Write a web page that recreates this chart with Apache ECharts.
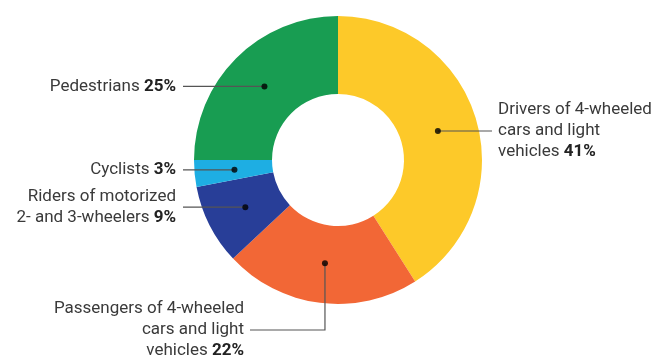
<!DOCTYPE html>
<html><head><meta charset="utf-8">
<script src="https://cdn.jsdelivr.net/npm/echarts@6/dist/echarts.min.js"></script>
<style>html,body{margin:0;padding:0;background:#fff}#c{width:656px;height:358px}</style>
</head><body><div id="c"></div>
<script>
const categories = ['Drivers of 4-wheeled\ncars and light\nvehicles', 'Passengers of 4-wheeled\ncars and light\nvehicles', 'Riders of motorized\n2- and 3-wheelers', 'Cyclists', 'Pedestrians'];
const values = [41, 22, 9, 3, 25];
const colors = ['#FDC929', '#F26736', '#283E98', '#1EAEE3', '#189D52'];

const CX = 338, CY = 160, R_IN = 66, R_OUT = 144, R_DOT = 104;
const FONT = 'Roboto, "Liberation Sans", sans-serif';
// label layout (positions only)
const labelPos = [
  {x: 498, lineEnd: 492, align: 'left'},
  {x: 244, lineEnd: 250, align: 'right', y: 330},
  {x: 176, lineEnd: 183, align: 'right'},
  {x: 176, lineEnd: 183, align: 'right'},
  {x: 176, lineEnd: 183, align: 'right'}
];

const total = values.reduce((a, b) => a + b, 0);
let cum = 0;
const dotData = values.map(v => { const mid = cum + v / 2; cum += v; return [R_DOT, mid / total * 100]; });

const chart = echarts.init(document.getElementById('c'), null, {renderer: 'canvas'});
chart.setOption({
  animation: false,
  polar: {center: [CX, CY], radius: R_OUT},
  angleAxis: {type: 'value', min: 0, max: 100, startAngle: 90, clockwise: true,
    axisLine: {show: false}, axisTick: {show: false}, axisLabel: {show: false}, splitLine: {show: false}},
  radiusAxis: {type: 'value', min: 0, max: R_OUT,
    axisLine: {show: false}, axisTick: {show: false}, axisLabel: {show: false}, splitLine: {show: false}},
  series: [
    {
      type: 'pie', center: [CX, CY], radius: [R_IN, R_OUT], startAngle: 90, clockwise: true,
      silent: true, label: {show: false}, labelLine: {show: false},
      data: categories.map((c, i) => ({name: c, value: values[i], itemStyle: {color: colors[i]}}))
    },
    {
      type: 'pie', center: [CX, CY], radius: [0, R_DOT], startAngle: 90, clockwise: true,
      silent: true, z: 5,
      itemStyle: {color: 'rgba(0,0,0,0)'},
      data: categories.map((c, i) => ({name: c, value: values[i]})),
      label: {
        show: true, position: 'outside',
        formatter: p => '{n|' + p.name + ' }{b|' + p.value + '%}',
        rich: {
          n: {fontFamily: FONT, fontSize: 17, lineHeight: 21, color: '#3a3a3a'},
          b: {fontFamily: FONT, fontSize: 17, lineHeight: 21, color: '#222', fontWeight: 'bold'}
        }
      },
      labelLine: {show: true, length: 10, length2: 10, lineStyle: {color: '#555', width: 1.2}},
      labelLayout: function (params) {
        const i = params.dataIndex;
        const L = labelPos[i];
        const p0 = params.labelLinePoints[0];
        const ly = L.y !== undefined ? L.y : p0[1];
        const pts = L.y !== undefined
          ? [[p0[0], p0[1]], [p0[0], ly], [L.lineEnd, ly]]
          : [[p0[0], p0[1]], [L.lineEnd, ly], [L.lineEnd, ly]];
        return {x: L.x, y: ly, align: L.align, verticalAlign: 'middle', labelLinePoints: pts};
      }
    },
    {
      type: 'scatter', coordinateSystem: 'polar', z: 10, silent: true,
      symbol: 'circle', symbolSize: 6, itemStyle: {color: '#000'},
      data: dotData
    }
  ]
});
</script></body></html>
